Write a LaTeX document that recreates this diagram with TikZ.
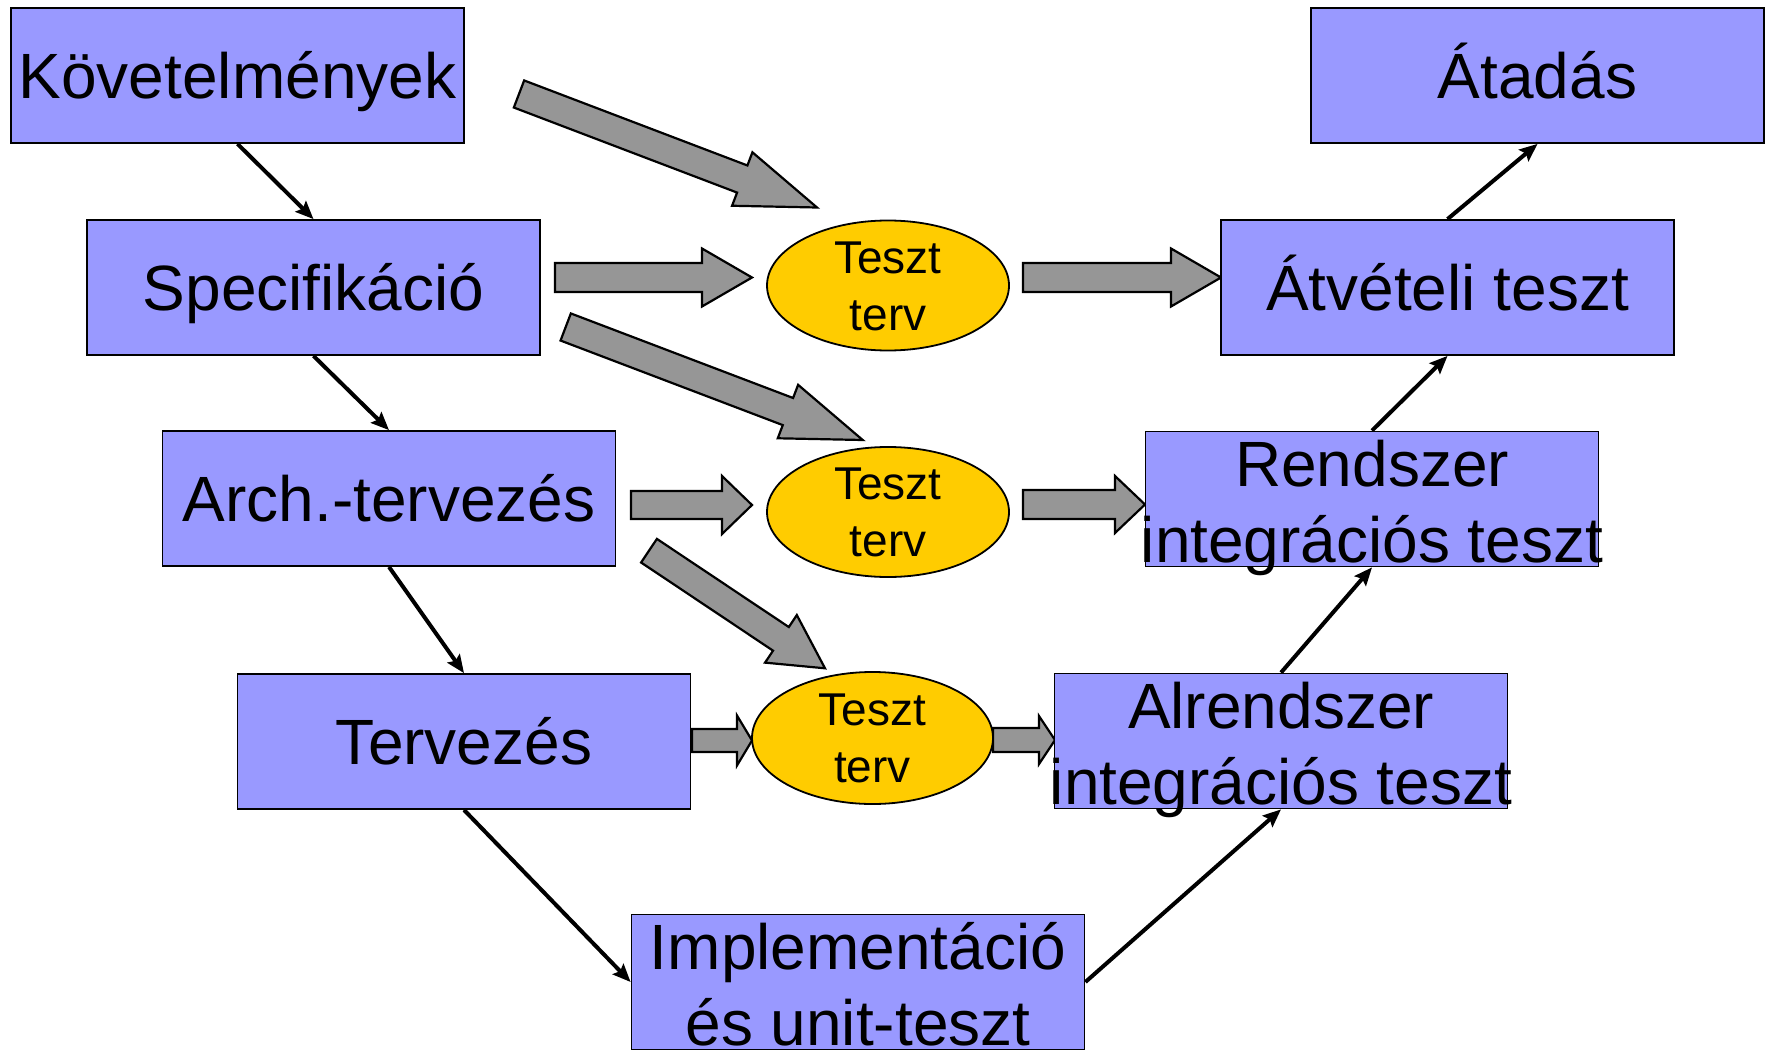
\documentclass[tikz,border=0pt]{standalone}
\usepackage{fontspec}
\setmainfont{Liberation Sans}
\usetikzlibrary{calc,arrows.meta,shapes.geometric}
\definecolor{boxblue}{RGB}{153,153,255}
\definecolor{ellyellow}{RGB}{255,204,0}
\definecolor{arrgray}{RGB}{150,150,150}
\newcommand\onel[1]{\makebox[0pt]{\raisebox{-23pt}[0pt][0pt]{#1}}}
\newcommand\twol[2]{\makebox[0pt]{\raisebox{-63pt}[0pt][0pt]{\begin{tabular}[b]{@{}c@{}}#1\\#2\end{tabular}}}}
\newcommand\elltxt{\makebox[0pt]{\raisebox{-44.5pt}[0pt][0pt]{\begin{tabular}[b]{@{}c@{}}Teszt\\terv\end{tabular}}}}
% tail, tip, shaft half width, head half width, head length
\newcommand\blockarr[5]{%
  \coordinate (bab) at ($(#2)!#5!(#1)$);
  \draw[barrow] ($(#1)!#3!90:(#2)$) -- ($(bab)!#3!-90:(#1)$) -- ($(bab)!#4!-90:(#1)$)
    -- (#2) -- ($(bab)!#4!90:(#1)$) -- ($(bab)!#3!90:(#1)$) -- ($(#1)!#3!-90:(#2)$) -- cycle;}
\tikzset{
  box/.style={draw=black, line width=1.8pt, fill=boxblue, rectangle,
    minimum width=453pt, minimum height=135pt, inner sep=0pt,
    font=\fontsize{64pt}{76pt}\selectfont},
  tellipse/.style={draw=black, line width=1.8pt, fill=ellyellow, ellipse,
    minimum width=242pt, minimum height=130pt, inner sep=0pt,
    font=\fontsize{46pt}{57pt}\selectfont},
  barrow/.style={draw=black, line width=2.2pt, fill=arrgray, line join=miter},
  flow/.style={draw=black, line width=4pt,
    -{Stealth[length=18pt,width=15pt,inset=3pt]}}
}
\begin{document}
\begin{tikzpicture}[x=1pt,y=-1pt]
\useasboundingbox (0,0) rectangle (1769,1051);
% block arrow end points
\coordinate (t1) at (519,94);      \coordinate (h1) at (817,207.5);
\coordinate (t3) at (565.7,327);   \coordinate (h3) at (862.7,440);
\coordinate (t5) at (649,550.7);   \coordinate (h5) at (825,668.3);
\coordinate (t2) at (555,277.5);   \coordinate (h2) at (752,277.5);
\coordinate (t4) at (631,505);     \coordinate (h4) at (752,505);
\coordinate (t6) at (692,740.5);   \coordinate (h6) at (752,740.5);
\coordinate (t7) at (993,740);     \coordinate (h7) at (1055,740);
\coordinate (t8) at (1023,277.5);  \coordinate (h8) at (1221,277.5);
\coordinate (t9) at (1023,504.5);  \coordinate (h9) at (1145,504.5);
\blockarr{t1}{h1}{14.5pt}{28.6pt}{80pt}
\blockarr{t3}{h3}{14.5pt}{28.6pt}{80pt}
\blockarr{t5}{h5}{14.2pt}{28.6pt}{53pt}
\blockarr{t2}{h2}{14.5pt}{29pt}{50pt}
\blockarr{t4}{h4}{14pt}{29pt}{30pt}
\blockarr{t6}{h6}{11.5pt}{25pt}{15pt}
\blockarr{t7}{h7}{12pt}{24pt}{16pt}
\blockarr{t8}{h8}{14.5pt}{29pt}{50pt}
\blockarr{t9}{h9}{14.5pt}{28.5pt}{30pt}
% boxes
\node[box] (kov)  at (237.5,75.5)  {\onel{Követelmények}};
\node[box] (spec) at (313.5,287.5) {\onel{Specifikáció}};
\node[box] (arch) at (389,498.5)   {\onel{Arch.-tervezés}};
\node[box] (terv) at (464,741.5)   {\onel{Tervezés}};
\node[box] (impl) at (858,982)     {\twol{Implementáció}{és unit-teszt}};
\node[box] (alr)  at (1281,741)    {\twol{Alrendszer}{integrációs teszt}};
\node[box] (rend) at (1372,499)    {\twol{Rendszer}{integrációs teszt}};
\node[box] (atv)  at (1447.5,287.5){\onel{Átvételi teszt}};
\node[box] (atad) at (1537.5,75.5) {\onel{Átadás}};
% ellipses
\node[tellipse] (e1) at (888,285.5) {\elltxt};
\node[tellipse] (e2) at (888,512)   {\elltxt};
\node[tellipse, minimum width=241pt, minimum height=132pt] (e3) at (872.5,738) {\elltxt};
% flow arrows
\draw[flow] (kov.south) -- (spec.north);
\draw[flow] (spec.south) -- (arch.north);
\draw[flow] (arch.south) -- (terv.north);
\draw[flow] (terv.south) -- (impl.west);
\draw[flow] (impl.east) -- (alr.south);
\draw[flow] (alr.north) -- (rend.south);
\draw[flow] (rend.north) -- (atv.south);
\draw[flow] (atv.north) -- (atad.south);
\end{tikzpicture}
\end{document}
